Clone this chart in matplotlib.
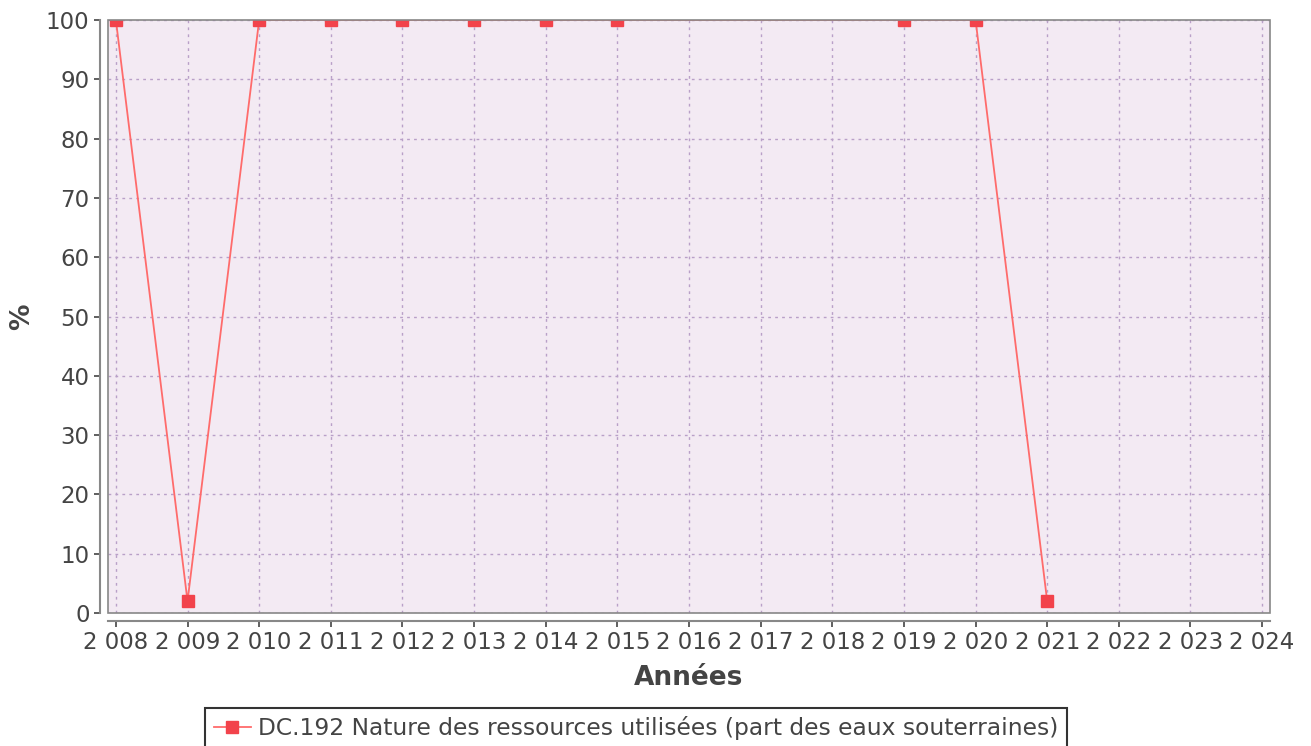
import matplotlib
matplotlib.use("Agg")
import matplotlib.pyplot as plt
from matplotlib.patches import Rectangle

years = [2008, 2009, 2010, 2011, 2012, 2013, 2014, 2015, 2019, 2020, 2021]
values = [100, 2, 100, 100, 100, 100, 100, 100, 100, 100, 2]
xticks = list(range(2008, 2025))
xtick_labels = ["2 " + str(y)[1:] for y in xticks]
yticks = list(range(0, 101, 10))
series_label = "DC.192 Nature des ressources utilisées (part des eaux souterraines)"

fig = plt.figure(figsize=(13.11, 7.46), dpi=100)
ax = fig.add_axes([108/1311, 1-613/746, (1270-108)/1311, (613-20)/746])
ax.set_facecolor("#F3EAF3")

ax.plot(years, values, color="#FF6B6B", lw=1.3, marker="s", markersize=9,
        markerfacecolor="#F2434B", markeredgecolor="#F2434B", label=series_label,
        zorder=3, clip_on=True)

ax.set_xlim(2007.89, 2024.11)
ax.set_ylim(0, 100)
ax.set_xticks(xticks)
ax.set_xticklabels(xtick_labels)
ax.set_yticks(yticks)
ax.grid(True, color="#B9A0C8", linestyle=(0, (2, 3)), linewidth=1.0)
ax.set_axisbelow(True)

for s in ["top", "right"]:
    ax.spines[s].set_visible(False)
for s in ["left", "bottom"]:
    ax.spines[s].set_position(("outward", 5.8))
    ax.spines[s].set_color("#888888")
    ax.spines[s].set_linewidth(1.5)
ax.add_patch(Rectangle((0, 0), 1, 1, transform=ax.transAxes, fill=False,
                       edgecolor="#888888", lw=1.2, zorder=4, clip_on=False))

ax.tick_params(axis="both", labelsize=16.5, colors="#444444", length=4, width=1.2,
               labelcolor="#444444", direction="out")
ax.tick_params(axis="x", pad=3)
ax.set_xlabel("Années", fontsize=19, fontweight="bold", color="#444444", labelpad=8)
ax.set_ylabel("%", fontsize=19, fontweight="bold", color="#444444", labelpad=8)

leg = fig.legend(loc="upper center", bbox_to_anchor=(636/1311, 1-708/746),
                 bbox_transform=fig.transFigure, fontsize=16.8, frameon=True,
                 fancybox=False, borderaxespad=0, handlelength=1.6,
                 handletextpad=0.3, borderpad=0.35)
leg.get_frame().set_edgecolor("black")
leg.get_frame().set_linewidth(1.5)
for t in leg.get_texts():
    t.set_color("#444444")

fig.savefig("out.png", dpi=100)
